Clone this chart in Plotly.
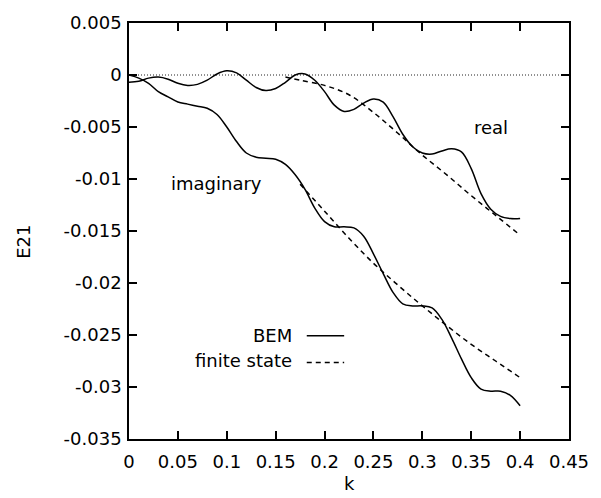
import plotly.graph_objects as go

# ---- data ----
k_bem = [0.00, 0.01, 0.02, 0.03, 0.04, 0.05, 0.06, 0.07, 0.08, 0.09,
         0.10, 0.11, 0.12, 0.13, 0.14, 0.15, 0.16, 0.17, 0.18, 0.19,
         0.20, 0.21, 0.22, 0.23, 0.24, 0.25, 0.26, 0.27, 0.28, 0.29,
         0.30, 0.31, 0.32, 0.33, 0.34, 0.35, 0.36, 0.37, 0.38, 0.39, 0.40]
bem_real = [-0.0007, -0.0006, -0.0003, -0.0002, -0.0004, -0.0008, -0.0010, -0.0009, -0.0005, 0.0001,
            0.0004, 0.0002, -0.0005, -0.0012, -0.0015, -0.0013, -0.0007, 0.0000, 0.0001, -0.0005,
            -0.0016, -0.0029, -0.0035, -0.0033, -0.0027, -0.0023, -0.0026, -0.0040, -0.0057, -0.0069,
            -0.0075, -0.0076, -0.0073, -0.0071, -0.0074, -0.0090, -0.0114, -0.0129, -0.0136, -0.0138, -0.0138]
bem_imag = [0.0000, -0.0003, -0.0008, -0.0016, -0.0021, -0.0026, -0.0028, -0.0030, -0.0032, -0.0038,
            -0.0050, -0.0064, -0.0075, -0.0079, -0.0080, -0.0081, -0.0086, -0.0096, -0.0110, -0.0128,
            -0.0141, -0.0146, -0.0146, -0.0147, -0.0155, -0.0172, -0.0191, -0.0209, -0.0220, -0.0222,
            -0.0222, -0.0224, -0.0235, -0.0253, -0.0273, -0.0291, -0.0302, -0.0304, -0.0304, -0.0308, -0.0318]

k_fs_real = [0.16, 0.175, 0.20, 0.225, 0.25, 0.275, 0.30, 0.325, 0.35, 0.375, 0.40]
fs_real = [-0.0002, -0.0005, -0.0010, -0.0019, -0.0036, -0.0056, -0.0077, -0.0096, -0.0116, -0.0135, -0.0154]

k_fs_imag = [0.175, 0.20, 0.225, 0.25, 0.275, 0.30, 0.325, 0.35, 0.375, 0.40]
fs_imag = [-0.0105, -0.0131, -0.0157, -0.0181, -0.0202, -0.0222, -0.0241, -0.0259, -0.0275, -0.0291]

zero_k = [0.0, 0.45]
zero_y = [0.0, 0.0]

x_ticks = [0, 0.05, 0.1, 0.15, 0.2, 0.25, 0.3, 0.35, 0.4, 0.45]
x_labels = ["0", "0.05", "0.1", "0.15", "0.2", "0.25", "0.3", "0.35", "0.4", "0.45"]
y_ticks = [0.005, 0, -0.005, -0.01, -0.015, -0.02, -0.025, -0.03, -0.035]
y_labels = ["0.005", "0", "-0.005", "-0.01", "-0.015", "-0.02", "-0.025", "-0.03", "-0.035"]

FONT = "DejaVu Sans"
FS = 18

fig = go.Figure()
fig.add_trace(go.Scatter(x=zero_k, y=zero_y, mode="lines",
                         line=dict(color="#222", width=1, dash="1px,2px"), showlegend=False))
fig.add_trace(go.Scatter(x=k_bem, y=bem_real, mode="lines", line_shape="spline",
                         line=dict(color="black", width=1.5), showlegend=False))
fig.add_trace(go.Scatter(x=k_bem, y=bem_imag, mode="lines", line_shape="spline",
                         line=dict(color="black", width=1.5), showlegend=False))
fig.add_trace(go.Scatter(x=k_fs_real, y=fs_real, mode="lines", line_shape="spline",
                         line=dict(color="black", width=1.5, dash="5px,4px"), showlegend=False))
fig.add_trace(go.Scatter(x=k_fs_imag, y=fs_imag, mode="lines", line_shape="spline",
                         line=dict(color="black", width=1.5, dash="5px,4px"), showlegend=False))

axis_common = dict(showline=True, linecolor="black", linewidth=1.5, mirror="ticks",
                   ticks="inside", ticklen=8, tickwidth=1.5, tickcolor="black",
                   showgrid=False, zeroline=False,
                   tickfont=dict(family=FONT, size=FS, color="black"))

fig.update_layout(
    width=601, height=498,
    margin=dict(l=129, r=24, t=20, b=59, pad=0),
    paper_bgcolor="white", plot_bgcolor="white",
    font=dict(family=FONT, size=FS, color="black"),
    xaxis=dict(range=[0, 0.45], tickvals=x_ticks, ticktext=x_labels,
               ticklabelstandoff=6, **axis_common),
    yaxis=dict(range=[-0.035, 0.005], tickvals=y_ticks, ticktext=y_labels,
               ticklabelstandoff=2, **axis_common),
)

ann = dict(showarrow=False, font=dict(family=FONT, size=FS, color="black"))
# axis titles
fig.add_annotation(text="k", xref="paper", yref="paper", x=0.5, y=-0.108,
                   xanchor="center", yanchor="middle", **ann)
fig.add_annotation(text="E21", xref="paper", yref="paper", x=-0.24, y=0.475, textangle=-90,
                   xanchor="center", yanchor="middle", **ann)
# curve labels
fig.add_annotation(text="real", xref="x", yref="y", x=0.37, y=-0.0050,
                   xanchor="center", yanchor="middle", **ann)
fig.add_annotation(text="imaginary", xref="x", yref="y", x=0.089, y=-0.0104,
                   xanchor="center", yanchor="middle", **ann)
# legend (text right-aligned, sample on the right)
fig.add_annotation(text="BEM", xref="paper", yref="paper", x=0.374, y=0.248,
                   xanchor="right", yanchor="middle", **ann)
fig.add_annotation(text="finite state", xref="paper", yref="paper", x=0.374, y=0.188,
                   xanchor="right", yanchor="middle", **ann)
fig.add_shape(type="line", xref="paper", yref="paper", x0=0.404, x1=0.489, y0=0.248, y1=0.248,
              line=dict(color="black", width=1.5))
fig.add_shape(type="line", xref="paper", yref="paper", x0=0.404, x1=0.489, y0=0.184, y1=0.184,
              line=dict(color="black", width=1.5, dash="5px,4px"))

fig.write_html("out.html")
